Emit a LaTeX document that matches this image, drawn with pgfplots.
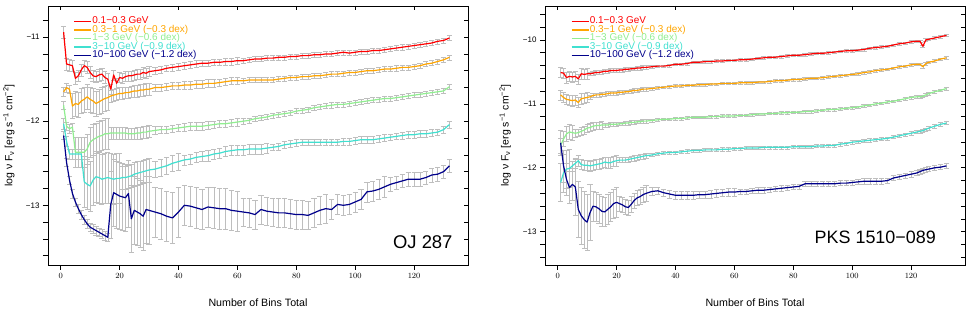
\documentclass[border=0pt]{standalone}
\usepackage{pgfplots}
\pgfplotsset{compat=1.18}
\usepackage{pgfplotstable}
\usepackage{fontspec}
\setmainfont{Liberation Sans}
\definecolor{cR}{HTML}{FF0000}
\definecolor{cO}{HTML}{FFA500}
\definecolor{cG}{HTML}{90EE90}
\definecolor{cT}{HTML}{40E0D0}
\definecolor{cB}{HTML}{00008B}
\definecolor{errgray}{HTML}{BEBEBE}

% OJ 287
\pgfplotstableread{
x r o g t b er eo eg et eb
1 -10.94 -11.65 -11.81 -12.03 -12.17 0.07 0.05 0.05 0.06 0.05
2 -11.32 -11.60 -12.06 -12.24 -12.49 0.07 0.05 0.05 0.06 0.05
3 -11.33 -11.62 -12.09 -12.39 -12.70 0.07 0.05 0.05 0.06 0.05
4 -11.34 -11.82 -12.07 -12.39 -12.86 0.07 0.15 0.05 0.06 0.05
5 -11.49 -11.79 -12.37 -12.39 -12.96 0.07 0.15 0.18 0.06 0.05
6 -11.46 -11.80 -12.37 -12.39 -13.04 0.07 0.15 0.18 0.06 0.05
7 -11.39 -11.76 -12.37 -12.39 -13.11 0.07 0.15 0.18 0.06 0.05
8 -11.34 -11.74 -12.37 -12.72 -13.17 0.07 0.15 0.18 0.30 0.05
9 -11.36 -11.71 -12.33 -12.75 -13.22 0.07 0.15 0.18 0.30 0.05
10 -11.42 -11.74 -12.25 -12.77 -13.26 0.07 0.15 0.18 0.30 0.05
11 -11.46 -11.76 -12.22 -12.70 -13.28 0.07 0.15 0.18 0.30 0.05
12 -11.47 -11.79 -12.20 -12.66 -13.30 0.07 0.15 0.18 0.30 0.05
13 -11.45 -11.77 -12.18 -12.67 -13.32 0.07 0.15 0.18 0.30 0.05
14 -11.44 -11.75 -12.17 -12.69 -13.34 0.07 0.15 0.18 0.30 0.05
15 -11.48 -11.73 -12.15 -12.68 -13.36 0.07 0.15 0.18 0.30 0.05
16 -11.50 -11.72 -12.15 -12.67 -13.38 0.07 0.15 0.18 0.30 0.05
17 -11.62 -11.70 -12.14 -12.68 -12.99 0.06 0.07 0.07 0.30 0.40
18 -11.45 -11.69 -12.14 -12.69 -12.85 0.06 0.07 0.07 0.30 0.40
19 -11.55 -11.68 -12.14 -12.68 -12.87 0.06 0.07 0.07 0.30 0.40
20 -11.48 -11.67 -12.14 -12.68 -12.89 0.06 0.07 0.07 0.30 0.40
21 -11.49 -11.67 -12.14 -12.67 -12.90 0.06 0.07 0.07 0.14 0.40
22 -11.47 -11.66 -12.14 -12.67 -12.91 0.06 0.07 0.07 0.14 0.40
23 -11.46 -11.66 -12.15 -12.66 -12.86 0.06 0.07 0.07 0.14 0.40
24 -11.46 -11.65 -12.15 -12.65 -13.16 0.06 0.07 0.07 0.14 0.40
25 -11.45 -11.64 -12.15 -12.63 -13.06 0.06 0.07 0.07 0.14 0.40
26 -11.44 -11.64 -12.14 -12.62 -13.08 0.06 0.07 0.07 0.14 0.40
27 -11.44 -11.63 -12.14 -12.61 -13.10 0.06 0.07 0.07 0.14 0.40
28 -11.42 -11.63 -12.13 -12.60 -13.13 0.06 0.07 0.07 0.14 0.40
29 -11.43 -11.62 -12.13 -12.59 -13.05 0.06 0.07 0.07 0.14 0.40
30 -11.41 -11.62 -12.12 -12.58 -13.06 0.06 0.07 0.07 0.14 0.40
32 -11.40 -11.60 -12.11 -12.57 -13.08 0.04 0.045 0.045 0.10 0.30
34 -11.39 -11.60 -12.10 -12.55 -13.10 0.04 0.045 0.045 0.10 0.30
36 -11.37 -11.59 -12.10 -12.53 -13.13 0.04 0.045 0.045 0.10 0.30
38 -11.36 -11.58 -12.09 -12.50 -13.15 0.04 0.045 0.045 0.10 0.30
40 -11.35 -11.58 -12.08 -12.48 -13.08 0.04 0.045 0.045 0.10 0.30
42 -11.34 -11.57 -12.07 -12.46 -13.00 0.04 0.045 0.045 0.06 0.24
44 -11.33 -11.57 -12.06 -12.45 -13.01 0.04 0.045 0.045 0.06 0.24
46 -11.32 -11.56 -12.06 -12.43 -13.03 0.04 0.045 0.045 0.06 0.24
48 -11.31 -11.56 -12.06 -12.42 -13.05 0.04 0.045 0.045 0.06 0.24
50 -11.31 -11.55 -12.05 -12.41 -13.02 0.04 0.045 0.045 0.06 0.24
52 -11.30 -11.55 -12.04 -12.39 -13.03 0.04 0.045 0.045 0.06 0.24
54 -11.30 -11.54 -12.03 -12.38 -13.04 0.04 0.045 0.045 0.06 0.24
56 -11.29 -11.53 -12.03 -12.36 -13.04 0.04 0.045 0.045 0.06 0.24
58 -11.29 -11.52 -12.02 -12.35 -13.06 0.04 0.045 0.045 0.06 0.24
60 -11.28 -11.52 -12.01 -12.34 -13.07 0.04 0.045 0.045 0.06 0.24
62 -11.28 -11.52 -12.00 -12.34 -13.08 0.03 0.03 0.03 0.06 0.17
64 -11.27 -11.51 -11.99 -12.33 -13.09 0.03 0.03 0.03 0.06 0.17
66 -11.26 -11.51 -11.97 -12.33 -13.11 0.03 0.03 0.03 0.06 0.17
68 -11.26 -11.51 -11.96 -12.33 -13.05 0.03 0.03 0.03 0.06 0.17
70 -11.25 -11.51 -11.95 -12.32 -13.07 0.03 0.03 0.03 0.06 0.17
72 -11.25 -11.51 -11.93 -12.31 -13.08 0.03 0.03 0.03 0.04 0.17
74 -11.24 -11.50 -11.92 -12.30 -13.09 0.03 0.03 0.03 0.04 0.17
76 -11.24 -11.49 -11.91 -12.28 -13.09 0.03 0.03 0.03 0.04 0.17
78 -11.23 -11.48 -11.90 -12.27 -13.10 0.03 0.03 0.03 0.04 0.17
80 -11.23 -11.48 -11.88 -12.26 -13.11 0.03 0.03 0.03 0.04 0.17
82 -11.22 -11.47 -11.87 -12.25 -13.11 0.03 0.03 0.03 0.04 0.17
84 -11.22 -11.47 -11.86 -12.25 -13.12 0.03 0.03 0.03 0.04 0.17
86 -11.21 -11.46 -11.84 -12.25 -13.09 0.03 0.03 0.03 0.04 0.17
88 -11.21 -11.46 -11.83 -12.25 -13.06 0.03 0.03 0.03 0.04 0.17
90 -11.20 -11.45 -11.82 -12.25 -13.04 0.03 0.03 0.03 0.04 0.17
92 -11.20 -11.44 -11.81 -12.25 -13.05 0.03 0.03 0.03 0.04 0.12
94 -11.19 -11.44 -11.80 -12.25 -12.99 0.03 0.03 0.03 0.04 0.12
96 -11.18 -11.43 -11.80 -12.24 -13.00 0.03 0.03 0.03 0.04 0.12
98 -11.19 -11.42 -11.79 -12.24 -12.99 0.03 0.03 0.03 0.04 0.12
100 -11.18 -11.42 -11.78 -12.23 -12.96 0.03 0.03 0.03 0.04 0.12
102 -11.17 -11.41 -11.77 -12.22 -12.93 0.03 0.03 0.03 0.04 0.12
104 -11.17 -11.40 -11.76 -12.22 -12.84 0.03 0.03 0.03 0.04 0.12
106 -11.16 -11.40 -11.75 -12.22 -12.83 0.03 0.03 0.03 0.04 0.12
108 -11.16 -11.39 -11.74 -12.21 -12.81 0.03 0.03 0.03 0.04 0.12
110 -11.15 -11.38 -11.73 -12.20 -12.78 0.03 0.03 0.03 0.04 0.12
112 -11.14 -11.38 -11.73 -12.19 -12.75 0.03 0.03 0.03 0.04 0.08
114 -11.13 -11.37 -11.72 -12.18 -12.73 0.03 0.03 0.03 0.04 0.08
116 -11.12 -11.36 -11.71 -12.17 -12.71 0.03 0.03 0.03 0.04 0.08
118 -11.11 -11.36 -11.70 -12.16 -12.69 0.03 0.03 0.03 0.04 0.08
120 -11.10 -11.35 -11.69 -12.16 -12.69 0.03 0.03 0.03 0.04 0.08
122 -11.09 -11.34 -11.68 -12.15 -12.69 0.03 0.03 0.03 0.04 0.08
124 -11.08 -11.32 -11.67 -12.15 -12.67 0.03 0.03 0.03 0.04 0.08
126 -11.07 -11.31 -11.66 -12.14 -12.64 0.03 0.03 0.03 0.04 0.08
128 -11.05 -11.29 -11.65 -12.13 -12.63 0.03 0.03 0.03 0.04 0.08
130 -11.04 -11.27 -11.64 -12.10 -12.60 0.03 0.03 0.03 0.04 0.08
132 -11.01 -11.24 -11.59 -12.04 -12.53 0.03 0.03 0.03 0.04 0.08
}\tabOJ

% PKS 1510-089
\pgfplotstableread{
x r o g t b er eo eg et eb
1 -10.51 -10.86 -11.65 -12.23 -11.61 0.08 0.08 0.12 0.30 0.20
2 -10.52 -10.90 -11.55 -12.08 -11.97 0.08 0.08 0.12 0.30 0.25
3 -10.59 -10.93 -11.47 -12.02 -12.18 0.08 0.08 0.12 0.30 0.25
4 -10.57 -10.94 -11.44 -12.01 -12.31 0.08 0.08 0.12 0.30 0.25
5 -10.58 -10.95 -11.45 -11.97 -12.26 0.08 0.08 0.12 0.08 0.25
6 -10.57 -10.94 -11.46 -11.93 -12.30 0.08 0.08 0.06 0.08 0.44
7 -10.61 -10.98 -11.45 -11.89 -12.65 0.08 0.08 0.06 0.08 0.44
8 -10.53 -10.92 -11.43 -11.95 -12.75 0.08 0.08 0.06 0.08 0.44
9 -10.54 -10.91 -11.41 -11.96 -12.81 0.08 0.08 0.06 0.08 0.44
10 -10.53 -10.90 -11.38 -11.96 -12.85 0.08 0.08 0.06 0.08 0.44
11 -10.53 -10.89 -11.37 -11.97 -12.70 0.03 0.03 0.06 0.08 0.44
12 -10.52 -10.87 -11.35 -11.96 -12.60 0.03 0.03 0.06 0.08 0.23
13 -10.51 -10.86 -11.34 -11.95 -12.61 0.03 0.03 0.06 0.08 0.23
14 -10.51 -10.86 -11.34 -11.94 -12.64 0.03 0.03 0.06 0.08 0.23
15 -10.50 -10.85 -11.33 -11.93 -12.68 0.03 0.03 0.06 0.08 0.23
16 -10.49 -10.85 -11.33 -11.91 -12.69 0.03 0.03 0.03 0.08 0.23
17 -10.49 -10.84 -11.33 -11.92 -12.65 0.03 0.03 0.03 0.08 0.23
18 -10.48 -10.83 -11.32 -11.92 -12.61 0.03 0.03 0.03 0.08 0.23
19 -10.48 -10.83 -11.32 -11.90 -12.56 0.03 0.03 0.03 0.08 0.23
20 -10.48 -10.83 -11.32 -11.89 -12.54 0.03 0.03 0.03 0.08 0.23
21 -10.47 -10.82 -11.31 -11.88 -12.56 0.03 0.03 0.03 0.04 0.12
22 -10.47 -10.82 -11.31 -11.88 -12.58 0.03 0.03 0.03 0.04 0.12
23 -10.46 -10.81 -11.30 -11.88 -12.61 0.03 0.03 0.03 0.04 0.12
24 -10.46 -10.81 -11.30 -11.87 -12.62 0.03 0.03 0.03 0.04 0.12
25 -10.45 -10.80 -11.29 -11.86 -12.57 0.03 0.03 0.03 0.04 0.12
26 -10.45 -10.79 -11.29 -11.85 -12.51 0.03 0.03 0.03 0.04 0.12
27 -10.44 -10.79 -11.28 -11.84 -12.47 0.03 0.03 0.03 0.04 0.12
28 -10.44 -10.78 -11.28 -11.83 -12.45 0.03 0.03 0.03 0.04 0.12
29 -10.43 -10.77 -11.27 -11.82 -12.42 0.03 0.03 0.03 0.04 0.12
30 -10.43 -10.77 -11.27 -11.81 -12.40 0.03 0.03 0.03 0.04 0.12
32 -10.42 -10.76 -11.26 -11.80 -12.37 0.02 0.02 0.02 0.025 0.06
34 -10.41 -10.75 -11.25 -11.78 -12.36 0.02 0.02 0.02 0.025 0.06
36 -10.41 -10.74 -11.24 -11.77 -12.39 0.02 0.02 0.02 0.025 0.06
38 -10.40 -10.73 -11.24 -11.76 -12.41 0.02 0.02 0.02 0.025 0.06
40 -10.38 -10.72 -11.23 -11.76 -12.43 0.02 0.02 0.02 0.025 0.06
42 -10.38 -10.72 -11.23 -11.75 -12.43 0.02 0.02 0.02 0.025 0.06
44 -10.37 -10.71 -11.22 -11.74 -12.43 0.02 0.02 0.02 0.025 0.06
46 -10.35 -10.71 -11.21 -11.73 -12.43 0.02 0.02 0.02 0.025 0.06
48 -10.35 -10.70 -11.21 -11.73 -12.42 0.02 0.02 0.02 0.025 0.06
50 -10.34 -10.70 -11.21 -11.72 -12.42 0.02 0.02 0.02 0.025 0.06
52 -10.34 -10.69 -11.20 -11.72 -12.41 0.02 0.02 0.02 0.025 0.06
54 -10.33 -10.69 -11.20 -11.72 -12.40 0.02 0.02 0.02 0.025 0.06
56 -10.33 -10.68 -11.19 -11.71 -12.39 0.02 0.02 0.02 0.025 0.06
58 -10.32 -10.68 -11.19 -11.71 -12.38 0.02 0.02 0.02 0.025 0.06
60 -10.32 -10.68 -11.19 -11.70 -12.38 0.02 0.02 0.02 0.025 0.06
62 -10.31 -10.67 -11.18 -11.70 -12.37 0.02 0.02 0.02 0.025 0.04
64 -10.31 -10.67 -11.18 -11.69 -12.37 0.02 0.02 0.02 0.025 0.04
66 -10.30 -10.67 -11.17 -11.69 -12.36 0.02 0.02 0.02 0.025 0.04
68 -10.29 -10.66 -11.16 -11.69 -12.35 0.02 0.02 0.02 0.025 0.04
70 -10.28 -10.66 -11.16 -11.68 -12.35 0.02 0.02 0.02 0.025 0.04
72 -10.27 -10.65 -11.15 -11.68 -12.34 0.02 0.02 0.02 0.025 0.04
74 -10.27 -10.64 -11.15 -11.68 -12.33 0.02 0.02 0.02 0.025 0.04
76 -10.26 -10.64 -11.14 -11.68 -12.32 0.02 0.02 0.02 0.025 0.04
78 -10.25 -10.63 -11.14 -11.68 -12.31 0.02 0.02 0.02 0.025 0.04
80 -10.24 -10.62 -11.13 -11.67 -12.30 0.02 0.02 0.02 0.025 0.04
82 -10.24 -10.62 -11.13 -11.67 -12.29 0.02 0.02 0.02 0.025 0.04
84 -10.23 -10.61 -11.12 -11.67 -12.25 0.02 0.02 0.02 0.025 0.04
86 -10.22 -10.60 -11.12 -11.67 -12.25 0.02 0.02 0.02 0.025 0.04
88 -10.21 -10.60 -11.11 -11.66 -12.25 0.02 0.02 0.02 0.025 0.04
90 -10.21 -10.59 -11.10 -11.66 -12.25 0.02 0.02 0.02 0.025 0.04
92 -10.20 -10.58 -11.09 -11.65 -12.25 0.02 0.02 0.02 0.025 0.04
94 -10.19 -10.57 -11.09 -11.65 -12.25 0.02 0.02 0.02 0.025 0.04
96 -10.18 -10.56 -11.08 -11.63 -12.24 0.02 0.02 0.02 0.025 0.04
98 -10.17 -10.55 -11.07 -11.62 -12.24 0.02 0.02 0.02 0.025 0.04
100 -10.17 -10.54 -11.06 -11.60 -12.23 0.02 0.02 0.02 0.025 0.04
102 -10.16 -10.53 -11.05 -11.59 -12.22 0.02 0.02 0.02 0.025 0.04
104 -10.15 -10.51 -11.03 -11.58 -12.21 0.02 0.02 0.02 0.025 0.04
106 -10.13 -10.50 -11.02 -11.57 -12.21 0.02 0.02 0.02 0.025 0.04
108 -10.12 -10.48 -11.00 -11.56 -12.21 0.02 0.02 0.02 0.025 0.04
110 -10.11 -10.47 -10.99 -11.55 -12.21 0.02 0.02 0.02 0.025 0.04
112 -10.10 -10.46 -10.97 -11.54 -12.20 0.02 0.02 0.02 0.025 0.04
114 -10.08 -10.44 -10.96 -11.52 -12.16 0.02 0.02 0.02 0.025 0.04
116 -10.06 -10.42 -10.94 -11.50 -12.14 0.02 0.02 0.02 0.025 0.04
118 -10.05 -10.41 -10.92 -11.48 -12.12 0.02 0.02 0.02 0.025 0.04
120 -10.03 -10.39 -10.90 -11.46 -12.10 0.02 0.02 0.02 0.025 0.04
122 -10.02 -10.38 -10.89 -11.44 -12.08 0.02 0.02 0.02 0.025 0.04
123 -10.02 -10.38 -10.89 -11.43 -12.06 0.02 0.02 0.02 0.025 0.04
124 -10.10 -10.42 -10.88 -11.42 -12.04 0.02 0.02 0.02 0.025 0.04
125 -10.00 -10.37 -10.86 -11.40 -12.03 0.02 0.02 0.02 0.025 0.04
126 -9.99 -10.35 -10.84 -11.38 -12.02 0.02 0.02 0.02 0.025 0.04
128 -9.97 -10.33 -10.81 -11.35 -12.00 0.02 0.02 0.02 0.025 0.04
130 -9.95 -10.30 -10.79 -11.32 -11.99 0.02 0.02 0.02 0.025 0.04
132 -9.93 -10.28 -10.76 -11.30 -11.97 0.02 0.02 0.02 0.025 0.04
}\tabPKS

\pgfplotsset{
  base/.style={
    scale only axis, width=420bp, height=259bp,
    xmin=-4.3, xmax=138.3,
  },
  main/.style={
    base,
    axis line style={line width=0.7bp},
    xtick={0,20,...,120},
    xtick pos=left, ytick pos=left,
    tick align=outside,
    tick style={line width=0.6bp, black},
    major tick length=5bp, minor tick length=5bp,
    tick label style={font=\fontsize{8}{9}\selectfont},
    xlabel={Number of Bins Total},
    ylabel={log ν F\textsubscript{ν} [erg s\textsuperscript{−1} cm\textsuperscript{−2}]},
    every axis x label/.style={at={(rel axis cs:0.5,-0.1467)}, anchor=center, font=\fontsize{10.7}{12}\selectfont},
    legend cell align=left,
    legend style={anchor=north west, draw=none, fill=none, inner sep=0pt, outer sep=0pt,
      nodes={inner sep=0.5bp, text height=6.2bp, text depth=1.3bp, font=\fontsize{10}{10}\selectfont},
      /tikz/every even column/.append style={column sep=5bp}},
    legend image code/.code={\draw[##1, line width=1.3bp] (0bp,0bp) -- (17bp,0bp);},
  },
  over/.style={
    base,
    axis line style={line width=0.7bp},
    xtick={0,20,...,120},
    xtick pos=right, ytick pos=right,
    tick align=inside,
    tick style={line width=0.6bp, black},
    major tick length=4bp, minor tick length=4bp,
    xticklabels={}, yticklabels={},
  },
  ebar/.style={forget plot, draw=none, mark=none,
    error bars/.cd, y dir=both, y explicit,
    error bar style={draw=errgray, line width=0.45bp},
    error mark options={rotate=90, draw=errgray, mark size=2.6bp, line width=0.45bp}},
  ser/.style={no markers, line width=1.2bp, line join=round},
}

\begin{document}
\begin{tikzpicture}
\useasboundingbox (0,0) rectangle (969bp,314bp);

% ---------- OJ 287 ----------
\begin{axis}[main, at={(48bp,49bp)}, anchor=south west,
  ymin=-13.71, ymax=-10.63,
  ytick={-13,-12,-11}, yticklabels={−13,−12,−11},
  minor ytick={-13.6,-13.4,-13.2,-12.8,-12.6,-12.4,-12.2,-11.8,-11.6,-11.4,-11.2,-10.8},
  every axis y label/.style={at={(rel axis cs:-0.093,0.5)}, rotate=90, anchor=center, font=\fontsize{10.5}{12}\selectfont},
  legend style={at={(rel axis cs:0.061,0.957)}},
]
\addplot[ebar] table[x=x, y=r, y error=er] {\tabOJ};
\addplot[ebar] table[x=x, y=o, y error=eo] {\tabOJ};
\addplot[ebar] table[x=x, y=g, y error=eg] {\tabOJ};
\addplot[ebar] table[x=x, y=t, y error=et] {\tabOJ};
\addplot[ebar] table[x=x, y=b, y error=eb] {\tabOJ};
\addplot[ser, cR] table[x=x, y=r] {\tabOJ};
\addlegendentry{\textcolor{cR}{0.1−0.3 GeV}}
\addplot[ser, cO] table[x=x, y=o] {\tabOJ};
\addlegendentry{\textcolor{cO}{0.3−1 GeV (−0.3 dex)}}
\addplot[ser, cG] table[x=x, y=g] {\tabOJ};
\addlegendentry{\textcolor{cG}{1−3 GeV (−0.6 dex)}}
\addplot[ser, cT] table[x=x, y=t] {\tabOJ};
\addlegendentry{\textcolor{cT}{3−10 GeV (−0.9 dex)}}
\addplot[ser, cB] table[x=x, y=b] {\tabOJ};
\addlegendentry{\textcolor{cB}{10−100 GeV (−1.2 dex)}}
\node[anchor=base east, inner sep=0pt, font=\fontsize{18.5}{20}\selectfont] at (rel axis cs:0.9636,0.0656) {OJ 287};
\end{axis}
\begin{axis}[over, at={(48bp,49bp)}, anchor=south west,
  ymin=-13.71, ymax=-10.63,
  ytick={-13,-12,-11},
  minor ytick={-13.6,-13.4,-13.2,-12.8,-12.6,-12.4,-12.2,-11.8,-11.6,-11.4,-11.2,-10.8},
]
\end{axis}

% ---------- PKS 1510-089 ----------
\begin{axis}[main, at={(545bp,49bp)}, anchor=south west,
  ymin=-13.52, ymax=-9.47,
  ytick={-13,-12,-11,-10}, yticklabels={−13,−12,−11,−10},
  minor ytick={-13.4,-13.2,-12.8,-12.6,-12.4,-12.2,-11.8,-11.6,-11.4,-11.2,-10.8,-10.6,-10.4,-10.2,-9.8,-9.6},
  every axis y label/.style={at={(rel axis cs:-0.095,0.5)}, rotate=90, anchor=center, font=\fontsize{10.5}{12}\selectfont},
  legend style={at={(rel axis cs:0.062,0.957)}},
]
\addplot[ebar] table[x=x, y=r, y error=er] {\tabPKS};
\addplot[ebar] table[x=x, y=o, y error=eo] {\tabPKS};
\addplot[ebar] table[x=x, y=g, y error=eg] {\tabPKS};
\addplot[ebar] table[x=x, y=t, y error=et] {\tabPKS};
\addplot[ebar] table[x=x, y=b, y error=eb] {\tabPKS};
\addplot[ser, cR] table[x=x, y=r] {\tabPKS};
\addlegendentry{\textcolor{cR}{0.1−0.3 GeV}}
\addplot[ser, cO] table[x=x, y=o] {\tabPKS};
\addlegendentry{\textcolor{cO}{0.3−1 GeV (−0.3 dex)}}
\addplot[ser, cG] table[x=x, y=g] {\tabPKS};
\addlegendentry{\textcolor{cG}{1−3 GeV (−0.6 dex)}}
\addplot[ser, cT] table[x=x, y=t] {\tabPKS};
\addlegendentry{\textcolor{cT}{3−10 GeV (−0.9 dex)}}
\addplot[ser, cB] table[x=x, y=b] {\tabPKS};
\addlegendentry{\textcolor{cB}{10−100 GeV (−1.2 dex)}}
\node[anchor=base east, inner sep=0pt, font=\fontsize{18}{20}\selectfont] at (rel axis cs:0.931,0.0838) {PKS 1510−089};
\end{axis}
\begin{axis}[over, at={(545bp,49bp)}, anchor=south west,
  ymin=-13.52, ymax=-9.47,
  ytick={-13,-12,-11,-10},
  minor ytick={-13.4,-13.2,-12.8,-12.6,-12.4,-12.2,-11.8,-11.6,-11.4,-11.2,-10.8,-10.6,-10.4,-10.2,-9.8,-9.6},
]
\end{axis}
\end{tikzpicture}
\end{document}
